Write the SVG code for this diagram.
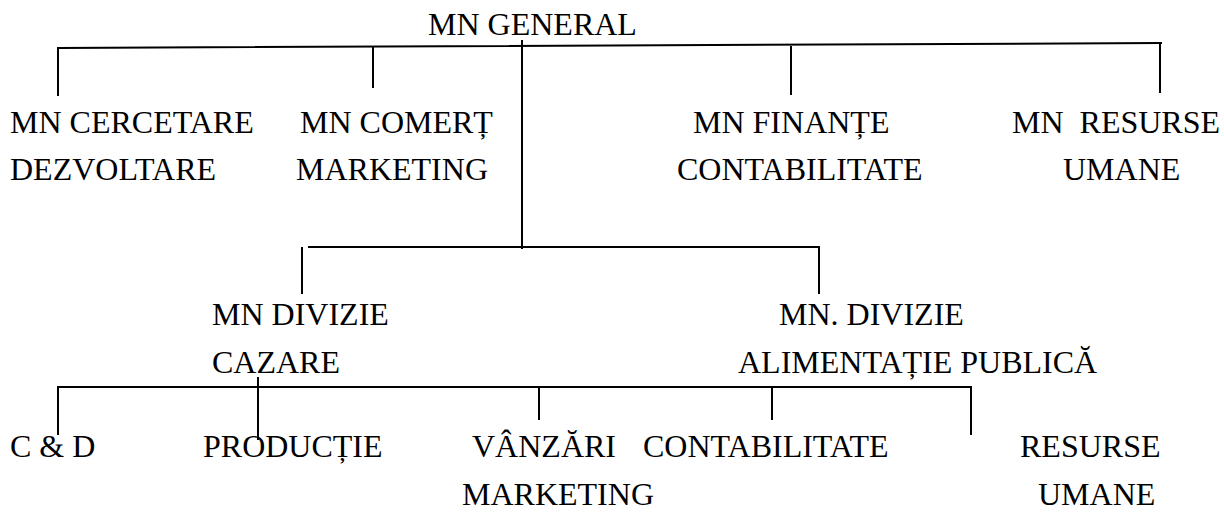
<svg xmlns="http://www.w3.org/2000/svg" width="1224" height="517" viewBox="0 0 1224 517" font-family="Liberation Serif, Times New Roman, Tinos, Noto Serif, DejaVu Serif, serif">
  <style>
    text { font-size: 32px; fill: #000; }
    .ln { stroke: #000; stroke-width: 2; fill: none; }
  </style>
  <rect width="1224" height="517" fill="#fff"/>

  <g id="connectors">
    <!-- general manager bar -->
    <path class="ln" d="M58 96 V48 L1162 43"/>
    <path class="ln" d="M373 47 V88"/>
    <path class="ln" d="M791 46 V95"/>
    <path class="ln" d="M1160 43 V93"/>
    <path class="ln" d="M522 40 V249"/>
    <!-- division bar -->
    <path class="ln" d="M308 247 H819 V294"/>
    <path class="ln" d="M302 247 V294"/>
    <!-- departments bar -->
    <path class="ln" d="M58 435 V387 H971 V435"/>
    <path class="ln" d="M258 377 V440"/>
    <path class="ln" d="M539 387 V420"/>
    <path class="ln" d="M772 387 V420"/>
  </g>

  <g id="mn-general"><text x="428" y="35">MN GENERAL</text></g>

  <g id="mn-cercetare">
    <text x="10" y="133">MN CERCETARE</text>
    <text x="10" y="180">DEZVOLTARE</text>
  </g>
  <g id="mn-comert">
    <text x="300" y="133">MN COMERȚ</text>
    <text x="296" y="180">MARKETING</text>
  </g>
  <g id="mn-finante">
    <text x="693" y="133">MN FINANȚE</text>
    <text x="677" y="180">CONTABILITATE</text>
  </g>
  <g id="mn-resurse">
    <text x="1012" y="133" xml:space="preserve">MN  RESURSE</text>
    <text x="1063" y="180">UMANE</text>
  </g>

  <g id="divizie-cazare">
    <text x="212" y="325">MN DIVIZIE</text>
    <text x="212" y="373">CAZARE</text>
  </g>
  <g id="divizie-alimentatie">
    <text x="779" y="325">MN. DIVIZIE</text>
    <text x="738" y="373">ALIMENTAȚIE PUBLICĂ</text>
  </g>

  <g id="cd"><text x="10" y="457">C &amp; D</text></g>
  <g id="productie"><text x="203" y="457">PRODUCȚIE</text></g>
  <g id="vanzari">
    <text x="472" y="457">VÂNZĂRI</text>
    <text x="462" y="505">MARKETING</text>
  </g>
  <g id="contabilitate"><text x="643" y="457">CONTABILITATE</text></g>
  <g id="resurse">
    <text x="1020" y="457">RESURSE</text>
    <text x="1038" y="505">UMANE</text>
  </g>
</svg>
